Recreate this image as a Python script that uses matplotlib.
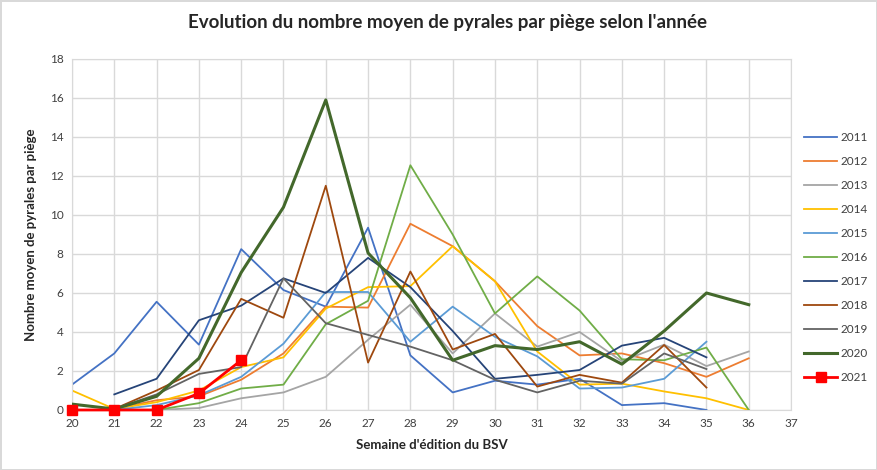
import numpy as np
import matplotlib
matplotlib.use("Agg")
import matplotlib.pyplot as plt

plt.rcParams['font.family'] = ['Lato', 'DejaVu Sans']

# Donnees (semaine de debut, valeurs)
annees = ['2011', '2012', '2013', '2014', '2015', '2016', '2017', '2018', '2019', '2020', '2021']
debut = [20, 21, 22, 20, 21, 22, 21, 21, 21, 20, 20]
v2011 = [1.3, 2.9, 5.55, 3.35, 8.25, 6.15, 5.3, 9.35, 2.8, 0.9, 1.5, 1.3, 1.6, 0.25, 0.35, 0.0]
v2012 = [0.05, 0.5, 0.7, 1.55, 2.9, 5.3, 5.25, 9.55, 8.4, 6.6, 4.3, 2.8, 2.9, 2.4, 1.7, 2.65]
v2013 = [0.0, 0.1, 0.6, 0.9, 1.7, 3.6, 5.4, 2.9, 4.95, 3.25, 4.0, 2.5, 3.35, 2.25, 3.0]
v2014 = [1.0, 0.05, 0.4, 1.0, 2.2, 2.7, 5.2, 6.3, 6.35, 8.4, 6.6, 3.0, 1.3, 1.35, 0.95, 0.6, 0.0]
v2015 = [0.0, 0.25, 0.75, 1.7, 3.4, 6.05, 6.05, 3.5, 5.3, 3.75, 2.75, 1.1, 1.15, 1.6, 3.5]
v2016 = [0.0, 0.35, 1.1, 1.3, 4.4, 5.6, 12.55, 9.0, 4.95, 6.85, 5.1, 2.6, 2.55, 3.2, 0.0]
v2017 = [0.8, 1.6, 4.6, 5.35, 6.75, 6.0, 7.8, 6.3, 4.05, 1.6, 1.8, 2.05, 3.3, 3.7, 2.7]
v2018 = [0.05, 1.0, 2.05, 5.7, 4.73, 11.5, 2.43, 7.1, 3.1, 3.9, 1.2, 1.8, 1.4, 3.33, 1.15]
v2019 = [0.05, 0.8, 1.85, 2.2, 6.75, 4.45, 3.85, 3.25, 2.55, 1.55, 0.9, 1.5, 1.35, 2.9, 2.1]
v2020 = [0.3, 0.05, 0.7, 2.65, 7.05, 10.4, 15.9, 8.05, 5.75, 2.55, 3.3, 3.1, 3.5, 2.35, 4.05, 6.0, 5.4]
v2021 = [0.0, 0.0, 0.0, 0.85, 2.55]
valeurs = [v2011, v2012, v2013, v2014, v2015, v2016, v2017, v2018, v2019, v2020, v2021]

couleurs = ['#4472C4', '#ED7D31', '#A5A5A5', '#FFC000', '#5B9BD5', '#70AD47',
            '#264478', '#9E480E', '#636363', '#43682B', '#FF0000']

fig = plt.figure(figsize=(8.77, 4.70), dpi=100)
fig.patch.set_edgecolor('#D9D9D9')
fig.patch.set_linewidth(1)
ax = fig.add_axes([0.0821, 0.1277, 0.8199, 0.7468])

for nom, d, v, c in zip(annees, debut, valeurs, couleurs):
    semaines = np.arange(d, d + len(v))
    if nom == '2021':
        ax.plot(semaines, v, color=c, lw=2, marker='s', markersize=6.5, label=nom,
                zorder=5, clip_on=False)
    elif nom == '2020':
        ax.plot(semaines, v, color=c, lw=2.2, label=nom, zorder=4)
    else:
        ax.plot(semaines, v, color=c, lw=1.3, label=nom)

ax.set_xlim(20, 37)
ax.set_ylim(0, 18)
ax.set_xticks(range(20, 38))
ax.set_yticks(range(0, 19, 2))
ax.grid(True, color='#D9D9D9', lw=1)
ax.set_axisbelow(True)
for s in ax.spines.values():
    s.set_color('#D9D9D9')
ax.tick_params(length=0, labelsize=8.5, colors='#404040', pad=6)

ax.set_xlabel("Semaine d'édition du BSV", fontsize=9.5, fontweight='bold', color='#262626', labelpad=7)
ax.set_ylabel("Nombre moyen de pyrales par piège", fontsize=9.5, fontweight='bold', color='#262626', labelpad=9)
fig.suptitle("Evolution du nombre moyen de pyrales par piège selon l'année",
             fontsize=13.5, fontweight='bold', color='#262626', x=0.51, y=0.97)

fig.legend(loc='upper left', bbox_to_anchor=(0.905, 0.742), frameon=False,
           fontsize=8.5, labelspacing=1.1, handlelength=2.8, handletextpad=0.3,
           labelcolor='#404040')

fig.savefig('out.png', dpi=100)
